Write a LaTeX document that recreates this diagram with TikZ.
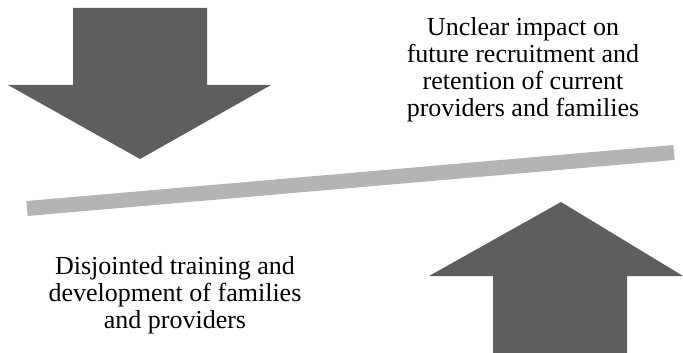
\documentclass[tikz,border=0pt]{standalone}
\usepackage{fontspec}
\setmainfont{Liberation Serif}
\definecolor{arrowgray}{RGB}{94, 94, 94}
\definecolor{beamgray}{RGB}{180, 180, 180}
\usetikzlibrary{positioning}

\begin{document}
\begin{tikzpicture}[x=1pt, y=-1pt,
    label text/.style={align=center, font=\fontsize{26}{27}\selectfont, inner sep=0pt}]
    \useasboundingbox (0,0) rectangle (683,353);

    % Downward pressure arrow
    \fill[arrowgray] (73,8) -- (207,8) -- (207,85) -- (271,85)
        -- (140,159) -- (8,85) -- (73,85) -- cycle;

    % Upward pressure arrow
    \fill[arrowgray] (493,353) -- (627,353) -- (627,276) -- (683,276)
        -- (561,202) -- (429,276) -- (493,276) -- cycle;

    % Tilted balance beam
    \coordinate (beamL) at (27,208.5);
    \coordinate (beamR) at (674,152.5);
    \draw[beamgray, line width=15pt] (beamL) -- (beamR);

    % Labels
    \node[label text] (impact) at (523,70) {Unclear impact on\\future recruitment and\\retention of current\\providers and families};
    \node[label text] (training) at (175,295) {Disjointed training and\\development of families\\and providers};
\end{tikzpicture}
\end{document}
